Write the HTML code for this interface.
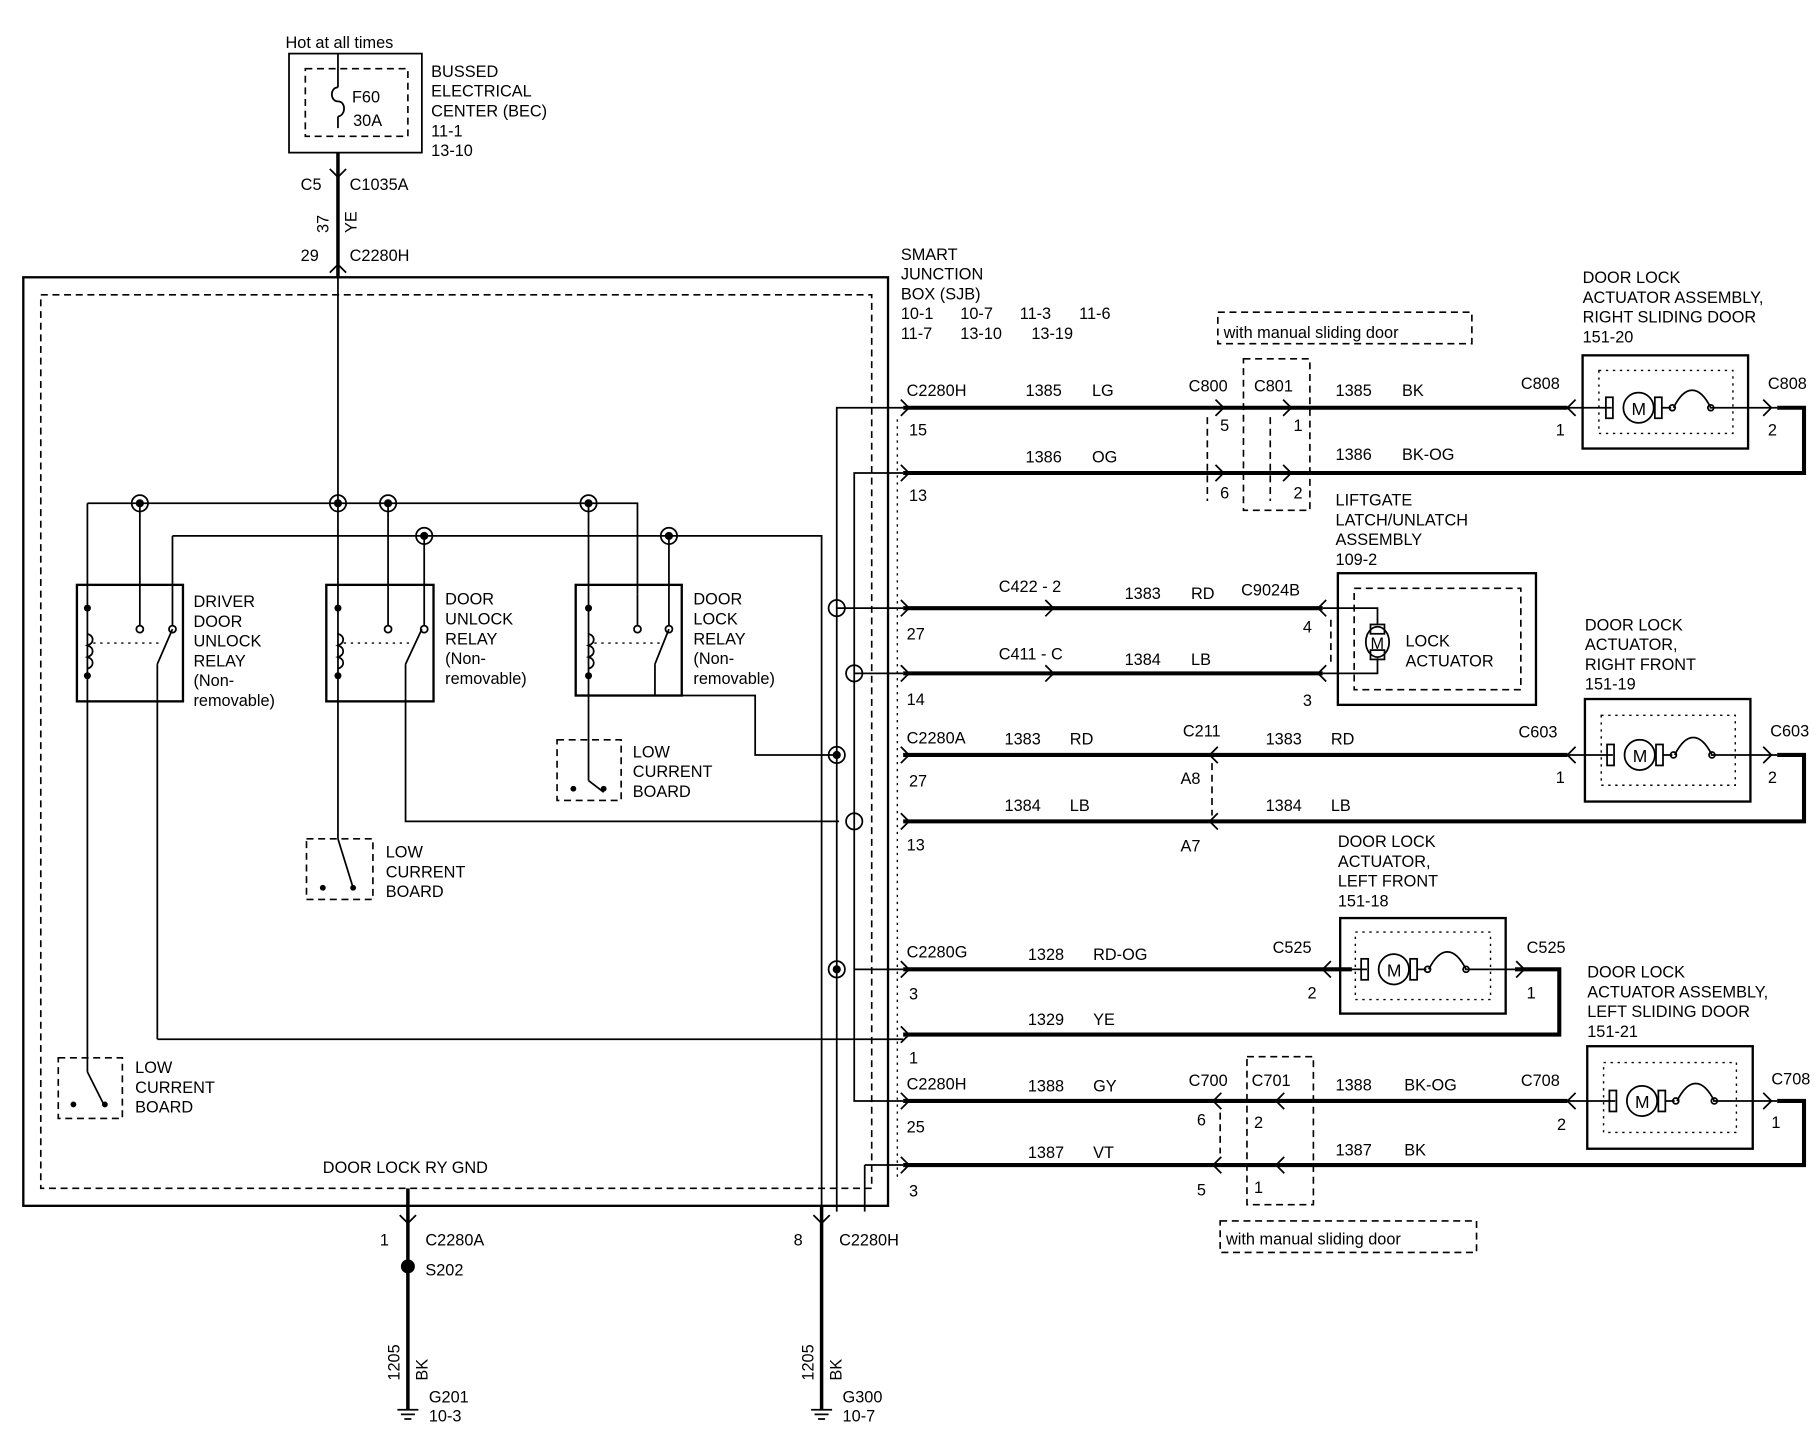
<!DOCTYPE html>
<html><head><meta charset="utf-8"><style>
html,body{margin:0;padding:0;background:#fff}
svg{display:block}
text{font-family:"Liberation Sans",Arial,sans-serif;font-size:14px;fill:#000}
.t{stroke:#000;stroke-width:1.5;fill:none}
.k{stroke:#000;stroke-width:3.5;fill:none}
.d{stroke:#000;stroke-width:1.4;fill:none;stroke-dasharray:6,4}
.dt{stroke:#000;stroke-width:1.2;fill:none;stroke-dasharray:2,4}
</style></head><body>
<svg width="1818" height="1440" viewBox="0 0 1560 1236" preserveAspectRatio="none" xmlns="http://www.w3.org/2000/svg">
<defs>
<g id="ar"><polyline class="t" points="-5,-7 2,0 -5,7"/></g>
<g id="al"><polyline class="t" points="5,-7 -2,0 5,7"/></g>
<g id="jn"><circle r="7" class="t"/><circle r="3.5" fill="#000"/></g>
<g id="oc"><circle r="7" class="t"/></g>
<g id="motor"><rect x="-28" y="-9" width="6" height="18" class="t"/><circle r="13" class="t"/><rect x="14" y="-9" width="6" height="18" class="t"/><text x="-6" y="6" style="font-size:15px">M</text><path class="t" d="M20,0 h8 M30,0 c10,-20 22,-20 32,0"/><circle cx="29" cy="0" r="2.5" class="t"/><circle cx="62" cy="0" r="2.5" class="t"/></g>
<g id="gnd"><path class="t" d="M-9,0 h18 M-6,4 h12 M-3,8 h6"/></g>
</defs>

<!-- BEC -->
<text x="245" y="41">Hot at all times</text>
<rect x="248" y="46" width="114" height="85" class="t"/>
<rect x="262" y="59" width="88" height="58" class="d"/>
<path class="t" d="M290,46 V75 M290,100 V110"/>
<path class="t" d="M290,75 c-7,0 -7,12 0,12 c7,0 7,12 0,13"/>
<text x="302" y="88">F60</text><text x="303" y="108">30A</text>
<text x="370" y="66">BUSSED</text><text x="370" y="83">ELECTRICAL</text><text x="370" y="100">CENTER (BEC)</text><text x="370" y="117">11-1</text><text x="370" y="134">13-10</text>
<path class="k" d="M290,131 V237" style="stroke-width:3"/>
<use href="#ar" transform="translate(290,150) rotate(90)"/>
<text x="258" y="163">C5</text><text x="300" y="163">C1035A</text>
<text x="282" y="200" transform="rotate(-90 282 200)">37</text>
<text x="306" y="200" transform="rotate(-90 306 200)">YE</text>
<use href="#ar" transform="translate(290,229) rotate(-90)"/>
<text x="258" y="224">29</text><text x="300" y="224">C2280H</text>

<!-- big box -->
<rect x="20" y="238" width="742" height="797" class="t" style="stroke-width:2"/>
<rect x="35" y="253" width="713" height="767" class="d"/>
<text x="773" y="223">SMART</text><text x="773" y="240">JUNCTION</text><text x="773" y="257">BOX (SJB)</text>
<text x="773" y="274">10-1</text><text x="824" y="274">10-7</text><text x="875" y="274">11-3</text><text x="926" y="274">11-6</text>
<text x="773" y="291">11-7</text><text x="824" y="291">13-10</text><text x="885" y="291">13-19</text>

<!-- buses -->
<path class="t" d="M290,237 V720 M75,432 H547 V510 M148,460 H705 V1040"/>
<use href="#jn" x="120" y="432"/><use href="#jn" x="290" y="432"/><use href="#jn" x="333" y="432"/><use href="#jn" x="505" y="432"/>
<use href="#jn" x="364" y="460"/><use href="#jn" x="574" y="460"/>

<!-- relays -->
<g>
<rect x="66" y="502" width="91" height="100" class="t" style="stroke-width:2"/>
<path class="t" d="M75,432 V920 M120,432 V537 M148,460 V537 M135,570 V892 M75,544 c6,2 6,8 0,10 c6,2 6,8 0,10 c6,2 6,8 0,10"/>
<circle cx="120" cy="540" r="3" class="t"/><circle cx="148" cy="540" r="3" class="t"/><circle cx="75" cy="522" r="3" fill="#000"/><circle cx="75" cy="580" r="3" fill="#000"/>
<path class="t" d="M135,570 L148,540"/><path class="dt" d="M80,552 H140"/>
<text x="166" y="521">DRIVER</text><text x="166" y="538">DOOR</text><text x="166" y="555">UNLOCK</text><text x="166" y="572">RELAY</text><text x="166" y="589">(Non-</text><text x="166" y="606">removable)</text>
</g>
<g>
<rect x="280" y="502" width="92" height="100" class="t" style="stroke-width:2"/>
<path class="t" d="M333,432 V537 M364,460 V537 M348,570 V705 H720 M290,544 c6,2 6,8 0,10 c6,2 6,8 0,10 c6,2 6,8 0,10"/>
<circle cx="333" cy="540" r="3" class="t"/><circle cx="364" cy="540" r="3" class="t"/><circle cx="290" cy="522" r="3" fill="#000"/><circle cx="290" cy="580" r="3" fill="#000"/>
<path class="t" d="M348,570 L362,540"/><path class="dt" d="M295,552 H355"/>
<text x="382" y="519">DOOR</text><text x="382" y="536">UNLOCK</text><text x="382" y="553">RELAY</text><text x="382" y="570">(Non-</text><text x="382" y="587">removable)</text>
</g>
<g>
<rect x="494" y="502" width="91" height="95" class="t" style="stroke-width:2"/>
<path class="t" d="M505,432 V670 M547,510 V537 M574,460 V537 M562,570 V597 H648 V648 H720 M505,544 c6,2 6,8 0,10 c6,2 6,8 0,10 c6,2 6,8 0,10"/>
<circle cx="547" cy="540" r="3" class="t"/><circle cx="574" cy="540" r="3" class="t"/><circle cx="505" cy="522" r="3" fill="#000"/><circle cx="505" cy="580" r="3" fill="#000"/>
<path class="t" d="M562,570 L574,540"/><path class="dt" d="M510,552 H570"/>
<text x="595" y="519">DOOR</text><text x="595" y="536">LOCK</text><text x="595" y="553">RELAY</text><text x="595" y="570">(Non-</text><text x="595" y="587">removable)</text>
</g>
<!-- low current boards -->
<rect x="478" y="635" width="55" height="52" class="d"/><path class="t" d="M505,670 L518,680"/><circle cx="492" cy="677" r="2.5" fill="#000"/><circle cx="518" cy="677" r="2.5" fill="#000"/>
<text x="543" y="650">LOW</text><text x="543" y="667">CURRENT</text><text x="543" y="684">BOARD</text>
<rect x="263" y="720" width="57" height="52" class="d"/><path class="t" d="M290,720 L303,762"/><circle cx="277" cy="762" r="2.5" fill="#000"/><circle cx="303" cy="762" r="2.5" fill="#000"/>
<text x="331" y="736">LOW</text><text x="331" y="753">CURRENT</text><text x="331" y="770">BOARD</text>
<rect x="50" y="908" width="55" height="52" class="d"/><path class="t" d="M75,920 L90,950"/><circle cx="63" cy="948" r="2.5" fill="#000"/><circle cx="90" cy="948" r="2.5" fill="#000"/>
<text x="116" y="921">LOW</text><text x="116" y="938">CURRENT</text><text x="116" y="955">BOARD</text>
<path class="t" d="M135,892 H775"/>

<!-- vertical thin lines near SJB edge -->
<path class="t" d="M775,350 H718 V1040 M775,406 H733 V945 H775 M742,1000 H775 M742,1000 V1040 M733,832 H775 M718,522 H775 M733,578 H775"/>
<use href="#oc" x="718" y="522"/><use href="#oc" x="733" y="578"/><use href="#jn" x="718" y="648"/><use href="#oc" x="733" y="705"/><use href="#jn" x="718" y="832"/>
<path class="dt" d="M770,360 V1010"/>

<!-- ground lines -->
<text x="277" y="1007">DOOR LOCK RY GND</text>
<path class="k" d="M350,1020 V1210" style="stroke-width:3"/><use href="#ar" transform="translate(350,1048) rotate(90)"/>
<text x="326" y="1069">1</text><text x="365" y="1069">C2280A</text><circle cx="350" cy="1087" r="6" fill="#000"/><text x="365" y="1095">S202</text>
<text x="343" y="1185" transform="rotate(-90 343 1185)">1205</text><text x="367" y="1185" transform="rotate(-90 367 1185)">BK</text>
<text x="368" y="1204">G201</text><text x="368" y="1220">10-3</text><use href="#gnd" x="350" y="1210"/>
<path class="k" d="M705,1035 V1210" style="stroke-width:3"/><use href="#ar" transform="translate(705,1048) rotate(90)"/>
<text x="681" y="1069">8</text><text x="720" y="1069">C2280H</text>
<text x="698" y="1185" transform="rotate(-90 698 1185)">1205</text><text x="722" y="1185" transform="rotate(-90 722 1185)">BK</text>
<text x="723" y="1204">G300</text><text x="723" y="1220">10-7</text><use href="#gnd" x="705" y="1210"/>

<!-- right sliding door -->
<rect x="1045" y="268" width="218" height="27" class="d"/><text x="1050" y="290">with manual sliding door</text>
<rect x="1067" y="308" width="57" height="130" class="d"/><path class="d" d="M1036,358 V430 M1090,358 V430"/>
<path class="k" d="M775,350 H1345 M775,406 H1548 V350 H1525"/>
<use href="#ar" x="778" y="350"/><use href="#ar" x="778" y="406"/><use href="#ar" x="1048" y="350"/><use href="#ar" x="1048" y="406"/><use href="#ar" x="1106" y="350"/><use href="#ar" x="1106" y="406"/>
<text x="778" y="340">C2280H</text><text x="880" y="340">1385</text><text x="937" y="340">LG</text><text x="1020" y="336">C800</text><text x="1076" y="336">C801</text><text x="1146" y="340">1385</text><text x="1203" y="340">BK</text>
<text x="780" y="374">15</text><text x="1047" y="370">5</text><text x="1110" y="370">1</text>
<text x="880" y="397">1386</text><text x="937" y="397">OG</text><text x="1146" y="395">1386</text><text x="1203" y="395">BK-OG</text>
<text x="780" y="430">13</text><text x="1047" y="428">6</text><text x="1110" y="428">2</text>
<text x="1358" y="243">DOOR LOCK</text><text x="1358" y="260">ACTUATOR ASSEMBLY,</text><text x="1358" y="277">RIGHT SLIDING DOOR</text><text x="1358" y="294">151-20</text>
<rect x="1358" y="305" width="142" height="80" class="t" style="stroke-width:2"/><rect x="1372" y="318" width="115" height="54" class="dt"/>
<path class="t" d="M1345,350 H1383 M1467,350 H1525"/><use href="#motor" x="1406" y="350"/>
<use href="#al" x="1347" y="350"/><use href="#ar" x="1518" y="350"/>
<text x="1305" y="334">C808</text><text x="1335" y="374">1</text><text x="1517" y="334">C808</text><text x="1517" y="374">2</text>

<!-- liftgate -->
<text x="1146" y="434">LIFTGATE</text><text x="1146" y="451">LATCH/UNLATCH</text><text x="1146" y="468">ASSEMBLY</text><text x="1146" y="485">109-2</text>
<path class="k" d="M775,522 H1135 M775,578 H1135"/>
<use href="#ar" x="778" y="522"/><use href="#ar" x="778" y="578"/><use href="#ar" x="902" y="522"/><use href="#ar" x="902" y="578"/><use href="#al" x="1133" y="522"/><use href="#al" x="1133" y="578"/>
<text x="857" y="508">C422 - 2</text><text x="965" y="514">1383</text><text x="1022" y="514">RD</text><text x="1065" y="511">C9024B</text>
<text x="857" y="566">C411 - C</text><text x="965" y="571">1384</text><text x="1022" y="571">LB</text>
<text x="778" y="549">27</text><text x="778" y="605">14</text><text x="1118" y="543">4</text><text x="1118" y="606">3</text>
<rect x="1148" y="492" width="170" height="113" class="t" style="stroke-width:2"/><rect x="1162" y="505" width="143" height="87" class="d"/>
<path class="d" d="M1142,532 V572"/>
<path class="t" d="M1135,522 H1182 V536 M1135,578 H1182 V565"/>
<rect x="1176" y="536" width="12" height="8" class="t"/><rect x="1176" y="558" width="12" height="8" class="t"/>
<ellipse cx="1182" cy="551" rx="10" ry="13" class="t"/><text x="1176" y="557">M</text>
<text x="1206" y="555">LOCK</text><text x="1206" y="572">ACTUATOR</text>

<!-- right front -->
<text x="1360" y="541">DOOR LOCK</text><text x="1360" y="558">ACTUATOR,</text><text x="1360" y="575">RIGHT FRONT</text><text x="1360" y="592">151-19</text>
<path class="k" d="M775,648 H1345 M775,705 H1548 V648 H1525"/>
<use href="#ar" x="778" y="648"/><use href="#ar" x="778" y="705"/><use href="#al" x="1040" y="648"/><use href="#al" x="1040" y="705"/><use href="#al" x="1347" y="648"/>
<path class="d" d="M1040,655 V700"/>
<text x="778" y="638">C2280A</text><text x="862" y="639">1383</text><text x="918" y="639">RD</text><text x="1015" y="632">C211</text><text x="1086" y="639">1383</text><text x="1142" y="639">RD</text><text x="1303" y="633">C603</text>
<text x="778" y="730">13</text><text x="780" y="675">27</text><text x="1013" y="673">A8</text><text x="1013" y="731">A7</text>
<text x="862" y="696">1384</text><text x="918" y="696">LB</text><text x="1086" y="696">1384</text><text x="1142" y="696">LB</text>
<rect x="1360" y="600" width="142" height="88" class="t" style="stroke-width:2"/><rect x="1374" y="614" width="115" height="60" class="dt"/>
<path class="t" d="M1345,648 H1384 M1468,648 H1525"/><use href="#motor" x="1407" y="648"/><use href="#ar" x="1518" y="648"/>
<text x="1335" y="672">1</text><text x="1519" y="632">C603</text><text x="1517" y="672">2</text>

<!-- left front -->
<text x="1148" y="727">DOOR LOCK</text><text x="1148" y="744">ACTUATOR,</text><text x="1148" y="761">LEFT FRONT</text><text x="1148" y="778">151-18</text>
<path class="k" d="M775,832 H1160 M775,888 H1338 V832 H1300"/>
<use href="#ar" x="778" y="832"/><use href="#ar" x="778" y="888"/><use href="#al" x="1137" y="832"/><use href="#ar" x="1306" y="832"/>
<text x="778" y="822">C2280G</text><text x="882" y="824">1328</text><text x="938" y="824">RD-OG</text><text x="1092" y="818">C525</text><text x="1310" y="818">C525</text>
<text x="780" y="858">3</text><text x="1122" y="857">2</text><text x="1310" y="857">1</text>
<text x="882" y="880">1329</text><text x="938" y="880">YE</text><text x="780" y="913">1</text>
<rect x="1150" y="788" width="142" height="82" class="t" style="stroke-width:2"/><rect x="1163" y="800" width="116" height="58" class="dt"/>
<path class="t" d="M1139,832 H1173 M1257,832 H1300"/><use href="#motor" x="1196" y="832"/>

<!-- left sliding -->
<text x="1362" y="839">DOOR LOCK</text><text x="1362" y="856">ACTUATOR ASSEMBLY,</text><text x="1362" y="873">LEFT SLIDING DOOR</text><text x="1362" y="890">151-21</text>
<path class="k" d="M775,945 H1345 M775,1000 H1548 V945 H1525"/>
<use href="#ar" x="778" y="945"/><use href="#ar" x="778" y="1000"/><use href="#al" x="1043" y="945"/><use href="#al" x="1043" y="1000"/><use href="#al" x="1097" y="945"/><use href="#al" x="1097" y="1000"/><use href="#al" x="1347" y="945"/>
<rect x="1070" y="907" width="57" height="127" class="d"/><path class="d" d="M1047,955 V990"/>
<text x="778" y="935">C2280H</text><text x="882" y="937">1388</text><text x="938" y="937">GY</text><text x="1020" y="932">C700</text><text x="1074" y="932">C701</text><text x="1146" y="936">1388</text><text x="1205" y="936">BK-OG</text><text x="1305" y="932">C708</text>
<text x="778" y="972">25</text><text x="1027" y="966">6</text><text x="1076" y="968">2</text><text x="1336" y="970">2</text>
<text x="882" y="994">1387</text><text x="938" y="994">VT</text><text x="1146" y="992">1387</text><text x="1205" y="992">BK</text>
<text x="780" y="1027">3</text><text x="1027" y="1026">5</text><text x="1076" y="1024">1</text>
<rect x="1047" y="1048" width="220" height="27" class="d"/><text x="1052" y="1068">with manual sliding door</text>
<rect x="1362" y="898" width="142" height="88" class="t" style="stroke-width:2"/><rect x="1376" y="912" width="114" height="60" class="dt"/>
<path class="t" d="M1345,945 H1386 M1470,945 H1525"/><use href="#motor" x="1409" y="945"/><use href="#ar" x="1518" y="945"/>
<text x="1520" y="931">C708</text><text x="1520" y="968">1</text>
</svg>
</body></html>
